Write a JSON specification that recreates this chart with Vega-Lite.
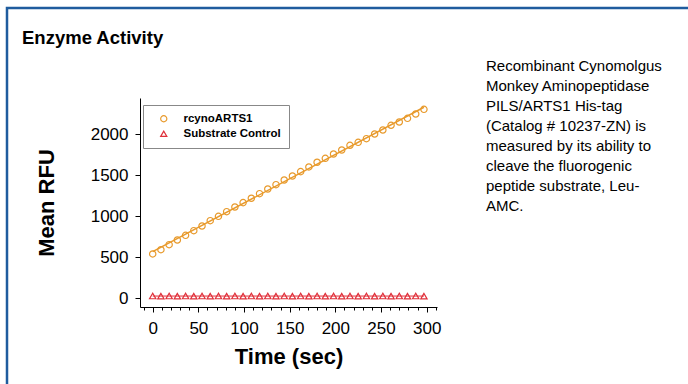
{
  "$schema": "https://vega.github.io/schema/vega-lite/v6.json",
  "width": 681,
  "height": 376,
  "autosize": {"type": "none"},
  "padding": {"left": 7, "top": 8, "right": 0, "bottom": 0},
  "background": "white",
  "config": {
    "view": {"stroke": "#1F5C9E", "strokeWidth": 2.5, "strokeDash": [681, 1057, 376], "fill": "white"},
    "font": "Liberation Sans",
    "axis": {"labelFont": "Liberation Sans", "titleFont": "Liberation Sans", "labelColor": "black", "titleColor": "black", "tickColor": "black", "domainColor": "black", "grid": false},
    "legend": {"labelFont": "Liberation Sans"}
  },
  "title": {
    "text": "Enzyme Activity",
    "anchor": "start",
    "frame": "group",
    "offset": -39,
    "dx": 15,
    "fontSize": 18.5,
    "fontWeight": "bold",
    "font": "Liberation Sans",
    "color": "black"
  },
  "datasets": {
    "activity": [
      {"t": 0, "rfu": 541, "series": "rcynoARTS1"},
      {"t": 9, "rfu": 593, "series": "rcynoARTS1"},
      {"t": 18, "rfu": 654, "series": "rcynoARTS1"},
      {"t": 27, "rfu": 711, "series": "rcynoARTS1"},
      {"t": 36, "rfu": 768, "series": "rcynoARTS1"},
      {"t": 45, "rfu": 825, "series": "rcynoARTS1"},
      {"t": 54, "rfu": 882, "series": "rcynoARTS1"},
      {"t": 63, "rfu": 947, "series": "rcynoARTS1"},
      {"t": 72, "rfu": 1000, "series": "rcynoARTS1"},
      {"t": 81, "rfu": 1057, "series": "rcynoARTS1"},
      {"t": 90, "rfu": 1114, "series": "rcynoARTS1"},
      {"t": 99, "rfu": 1167, "series": "rcynoARTS1"},
      {"t": 108, "rfu": 1220, "series": "rcynoARTS1"},
      {"t": 117, "rfu": 1276, "series": "rcynoARTS1"},
      {"t": 126, "rfu": 1333, "series": "rcynoARTS1"},
      {"t": 135, "rfu": 1386, "series": "rcynoARTS1"},
      {"t": 144, "rfu": 1443, "series": "rcynoARTS1"},
      {"t": 153, "rfu": 1492, "series": "rcynoARTS1"},
      {"t": 162, "rfu": 1545, "series": "rcynoARTS1"},
      {"t": 171, "rfu": 1602, "series": "rcynoARTS1"},
      {"t": 180, "rfu": 1659, "series": "rcynoARTS1"},
      {"t": 189, "rfu": 1707, "series": "rcynoARTS1"},
      {"t": 198, "rfu": 1760, "series": "rcynoARTS1"},
      {"t": 207, "rfu": 1809, "series": "rcynoARTS1"},
      {"t": 216, "rfu": 1866, "series": "rcynoARTS1"},
      {"t": 225, "rfu": 1902, "series": "rcynoARTS1"},
      {"t": 234, "rfu": 1947, "series": "rcynoARTS1"},
      {"t": 243, "rfu": 2004, "series": "rcynoARTS1"},
      {"t": 252, "rfu": 2053, "series": "rcynoARTS1"},
      {"t": 261, "rfu": 2110, "series": "rcynoARTS1"},
      {"t": 270, "rfu": 2150, "series": "rcynoARTS1"},
      {"t": 279, "rfu": 2195, "series": "rcynoARTS1"},
      {"t": 288, "rfu": 2248, "series": "rcynoARTS1"},
      {"t": 297, "rfu": 2305, "series": "rcynoARTS1"},
      {"t": 0, "rfu": 28, "series": "Substrate Control"},
      {"t": 9, "rfu": 27, "series": "Substrate Control"},
      {"t": 18, "rfu": 28, "series": "Substrate Control"},
      {"t": 27, "rfu": 27, "series": "Substrate Control"},
      {"t": 36, "rfu": 28, "series": "Substrate Control"},
      {"t": 45, "rfu": 27, "series": "Substrate Control"},
      {"t": 54, "rfu": 28, "series": "Substrate Control"},
      {"t": 63, "rfu": 27, "series": "Substrate Control"},
      {"t": 72, "rfu": 28, "series": "Substrate Control"},
      {"t": 81, "rfu": 27, "series": "Substrate Control"},
      {"t": 90, "rfu": 28, "series": "Substrate Control"},
      {"t": 99, "rfu": 27, "series": "Substrate Control"},
      {"t": 108, "rfu": 28, "series": "Substrate Control"},
      {"t": 117, "rfu": 27, "series": "Substrate Control"},
      {"t": 126, "rfu": 28, "series": "Substrate Control"},
      {"t": 135, "rfu": 27, "series": "Substrate Control"},
      {"t": 144, "rfu": 28, "series": "Substrate Control"},
      {"t": 153, "rfu": 27, "series": "Substrate Control"},
      {"t": 162, "rfu": 28, "series": "Substrate Control"},
      {"t": 171, "rfu": 27, "series": "Substrate Control"},
      {"t": 180, "rfu": 28, "series": "Substrate Control"},
      {"t": 189, "rfu": 27, "series": "Substrate Control"},
      {"t": 198, "rfu": 28, "series": "Substrate Control"},
      {"t": 207, "rfu": 27, "series": "Substrate Control"},
      {"t": 216, "rfu": 28, "series": "Substrate Control"},
      {"t": 225, "rfu": 27, "series": "Substrate Control"},
      {"t": 234, "rfu": 28, "series": "Substrate Control"},
      {"t": 243, "rfu": 27, "series": "Substrate Control"},
      {"t": 252, "rfu": 28, "series": "Substrate Control"},
      {"t": 261, "rfu": 27, "series": "Substrate Control"},
      {"t": 270, "rfu": 28, "series": "Substrate Control"},
      {"t": 279, "rfu": 27, "series": "Substrate Control"},
      {"t": 288, "rfu": 28, "series": "Substrate Control"},
      {"t": 297, "rfu": 27, "series": "Substrate Control"}
    ],
    "note": [
      {"note": "Recombinant Cynomolgus\nMonkey Aminopeptidase\nPILS/ARTS1 His-tag\n(Catalog # 10237-ZN) is\nmeasured by its ability to\ncleave the fluorogenic\npeptide substrate, Leu-\nAMC."}
    ]
  },
  "resolve": {"scale": {"x": "independent"}, "axis": {"x": "independent"}},
  "layer": [
    {
      "layer": [
        {
          "data": {"name": "activity"},
          "transform": [
            {"filter": "datum.series === 'rcynoARTS1'"},
            {"regression": "rfu", "on": "t"}
          ],
          "mark": {"type": "line", "color": "#E89A2C", "strokeWidth": 1.5},
          "encoding": {
            "x": {"field": "t", "type": "quantitative"},
            "y": {"field": "rfu", "type": "quantitative"}
          }
        },
        {
          "data": {"name": "activity"},
          "mark": {"type": "point", "filled": false, "strokeWidth": 1.2, "size": 40, "opacity": 1},
          "encoding": {
            "x": {
              "field": "t",
              "type": "quantitative",
              "scale": {"domain": [-13.9, 311.3], "range": [133, 430], "nice": false, "zero": false},
              "axis": {
                "orient": "bottom",
                "offset": -77,
                "values": [0, 50, 100, 150, 200, 250, 300],
                "tickSize": 5,
                "labelFontSize": 17,
                "labelPadding": 8,
                "labelFlush": false,
                "title": "Time (sec)",
                "titleFontSize": 22,
                "titleFontWeight": "bold",
                "titlePadding": 10
              }
            },
            "y": {
              "field": "rfu",
              "type": "quantitative",
              "scale": {"domain": [-106, 2443], "range": [299, 90], "nice": false, "zero": false},
              "axis": {
                "orient": "left",
                "offset": -133,
                "values": [0, 500, 1000, 1500, 2000],
                "format": "d",
                "tickSize": 5,
                "labelFontSize": 17,
                "labelPadding": 7,
                "title": "Mean RFU",
                "titleFontSize": 22,
                "titleFontWeight": "bold",
                "titlePadding": 32
              }
            },
            "color": {
              "field": "series",
              "type": "nominal",
              "scale": {"domain": ["rcynoARTS1", "Substrate Control"], "range": ["#E89A2C", "#E0303A"]},
              "legend": {
                "orient": "none",
                "legendX": 136,
                "legendY": 97,
                "title": null,
                "padding": 8,
                "strokeColor": "#888888",
                "fillColor": "white",
                "symbolOffset": 7,
                "labelOffset": 14,
                "labelFontSize": 11.5,
                "labelFontWeight": "bold",
                "labelColor": "black",
                "rowPadding": 2,
                "symbolSize": 38,
                "symbolStrokeWidth": 1.2
              }
            },
            "shape": {
              "field": "series",
              "type": "nominal",
              "scale": {"domain": ["rcynoARTS1", "Substrate Control"], "range": ["circle", "triangle-up"]}
            }
          }
        },
        {
          "data": {"name": "note"},
          "mark": {"type": "text", "align": "left", "baseline": "top", "lineBreak": "\n", "fontSize": 15, "lineHeight": 20, "font": "Liberation Sans", "color": "black"},
          "encoding": {
            "x": {"datum": 364.9},
            "y": {"datum": 2919},
            "text": {"field": "note", "type": "nominal"}
          }
        }
      ]
    },
    {
      "data": {"name": "activity"},
      "transform": [
        {"filter": "datum.series === 'Substrate Control'"},
        {"regression": "rfu", "on": "t"}
      ],
      "mark": {"type": "line", "color": "#E0303A", "strokeWidth": 1},
      "encoding": {
        "x": {
          "field": "t",
          "type": "quantitative",
          "scale": {"domain": [-13.9, 311.3], "range": [133, 430], "nice": false, "zero": false},
          "axis": {
            "orient": "bottom",
            "offset": -77,
            "values": [-10, 10, 20, 30, 40, 60, 70, 80, 90, 110, 120, 130, 140, 160, 170, 180, 190, 210, 220, 230, 240, 260, 270, 280, 290, 310],
            "labels": false,
            "domain": false,
            "tickSize": 3,
            "title": null
          }
        },
        "y": {"field": "rfu", "type": "quantitative"}
      }
    }
  ]
}
